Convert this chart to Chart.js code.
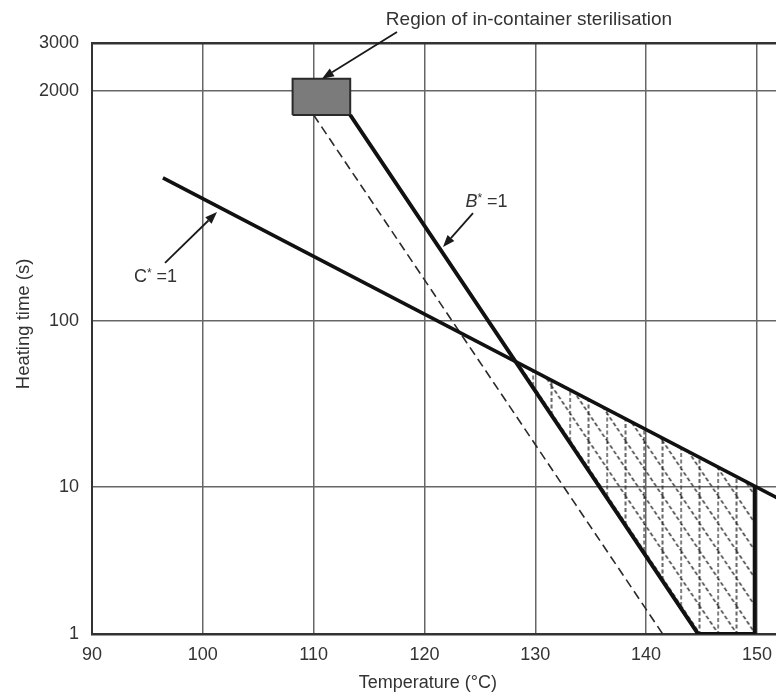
<!DOCTYPE html>
<html>
<head>
<meta charset="utf-8">
<script src="https://cdn.jsdelivr.net/npm/chart.js@4.4.0/dist/chart.umd.min.js"></script>
<style>
  html, body { margin: 0; padding: 0; background: #fff; overflow: hidden; }
</style>
</head>
<body>
<canvas id="sterilChart" width="776" height="695"></canvas>
<script>
// Ticks de los ejes
const temperatureTicks = [90, 100, 110, 120, 130, 140, 150];
const timeTicks = [1, 10, 100, 2000, 3000];

// Línea C* = 1
const cStarTemp = [96.4, 152];
const cStarTime = [645, 8.3];

// Línea B* = 1 y borde derecho de la región
const bStarTemp = [113.3, 144.7, 149.8, 149.8];
const bStarTime = [1463, 1, 1, 10.1];

// Línea discontinua paralela
const dashedTemp = [110.0, 141.5];
const dashedTime = [1463, 1];

// Región sombreada
const regionTemp = [128.2, 144.7, 149.8, 149.8, 128.2];
const regionTime = [57, 1, 1, 10.1, 57];

// Región de esterilización en envase (rectángulo gris)
const boxTemp = [108.1, 113.3, 113.3, 108.1, 108.1];
const boxTime = [1463, 1463, 2220, 2220, 1463];

// Etiquetas y flechas
const labelTexts = ['Region of in-container sterilisation', 'B* =1', 'C* =1'];
const labelTemps = [129.43, 125.6, 95.73];
const labelTimes = [3643, 471, 177];
const arrowTailTemps = [117.52, 124.38, 96.59];
const arrowTailTimes = [3292, 408, 213];
const arrowHeadTemps = [110.75, 121.67, 101.28];
const arrowHeadTimes = [2220, 262, 413];

// Títulos de ejes
const xTitle = 'Temperature (°C)';
const yTitle = 'Heating time (s)';

// El eje original no es logarítmico uniforme: fracción de altura de cada tick
const timeTickFractions = [0, 0.2487, 0.5296, 0.9188, 1];

const FONT = "'Liberation Sans', Arial, sans-serif";
const TEXT = '#333';

function toPoints(xs, ys) {
    return xs.map((x, i) => ({ x: x, y: ys[i] }));
}

// Escala log por tramos
class PiecewiseLogScale extends Chart.LogarithmicScale {
    getPixelForValue(value) {
        if (value === null || value === undefined || isNaN(value) || value <= 0) return NaN;
        const logs = timeTicks.map(Math.log10);
        const lv = Math.log10(value);
        let i = 0;
        while (i < logs.length - 2 && lv > logs[i + 1]) i++;
        const t = (lv - logs[i]) / (logs[i + 1] - logs[i]);
        const f = timeTickFractions[i] + t * (timeTickFractions[i + 1] - timeTickFractions[i]);
        return this.getPixelForDecimal(f);
    }
    getValueForPixel(pixel) {
        const logs = timeTicks.map(Math.log10);
        const f = this.getDecimalForPixel(pixel);
        let i = 0;
        while (i < timeTickFractions.length - 2 && f > timeTickFractions[i + 1]) i++;
        const t = (f - timeTickFractions[i]) / (timeTickFractions[i + 1] - timeTickFractions[i]);
        return Math.pow(10, logs[i] + t * (logs[i + 1] - logs[i]));
    }
}
PiecewiseLogScale.id = 'piecewiseLog';
PiecewiseLogScale.defaults = {};
Chart.register(PiecewiseLogScale);

// Trama de la región (verticales y diagonales discontinuas)
function makeHatch() {
    const c = document.createElement('canvas');
    c.width = 37;
    c.height = 55;
    const g = c.getContext('2d');
    g.strokeStyle = '#2a2a2a';
    g.lineWidth = 1.4;
    g.setLineDash([4, 2.5]);
    [0.5, 19].forEach(x => {
        g.beginPath(); g.moveTo(x, 0); g.lineTo(x, 55); g.stroke();
    });
    [-37, -18.5, 0, 18.5, 37].forEach(dx => {
        g.beginPath(); g.moveTo(dx, 0); g.lineTo(dx + 37, 55); g.stroke();
    });
    const p = g.createPattern(c, 'repeat');
    if (p.setTransform && window.DOMMatrix) p.setTransform(new DOMMatrix([1, 0, 0, 1, 14.5, 0]));
    return p;
}

function drawArrow(ctx, x1, y1, x2, y2) {
    const ang = Math.atan2(y2 - y1, x2 - x1);
    const len = 12, half = 4.5;
    const bx = x2 - len * Math.cos(ang), by = y2 - len * Math.sin(ang);
    ctx.beginPath();
    ctx.moveTo(x1, y1);
    ctx.lineTo(bx, by);
    ctx.stroke();
    ctx.beginPath();
    ctx.moveTo(x2, y2);
    ctx.lineTo(bx - half * Math.sin(ang), by + half * Math.cos(ang));
    ctx.lineTo(bx + half * Math.sin(ang), by - half * Math.cos(ang));
    ctx.closePath();
    ctx.fill();
}

// Texto con asterisco en superíndice
function drawStarLabel(ctx, text, cx, cy, italic) {
    const parts = text.split('*');
    const mainFont = (italic ? 'italic ' : '') + '18px ' + FONT;
    const starFont = '12px ' + FONT;
    const restFont = '18px ' + FONT;
    ctx.font = mainFont; const w1 = ctx.measureText(parts[0]).width;
    ctx.font = starFont; const w2 = ctx.measureText('*').width;
    ctx.font = restFont; const w3 = ctx.measureText(parts[1]).width;
    let x = cx - (w1 + w2 + w3) / 2;
    ctx.textAlign = 'left';
    ctx.font = mainFont; ctx.fillText(parts[0], x, cy); x += w1;
    ctx.font = starFont; ctx.fillText('*', x, cy - 3); x += w2;
    ctx.font = restFont; ctx.fillText(parts[1], x, cy);
}

const notesPlugin = {
    id: 'notes',
    afterDatasetsDraw(chart) {
        const { ctx, scales: { x, y } } = chart;
        ctx.save();
        ctx.strokeStyle = '#1a1a1a';
        ctx.fillStyle = '#1a1a1a';
        ctx.lineWidth = 1.8;
        for (let i = 0; i < arrowTailTemps.length; i++) {
            drawArrow(ctx,
                x.getPixelForValue(arrowTailTemps[i]), y.getPixelForValue(arrowTailTimes[i]),
                x.getPixelForValue(arrowHeadTemps[i]), y.getPixelForValue(arrowHeadTimes[i]));
        }
        ctx.fillStyle = TEXT;
        ctx.textBaseline = 'middle';
        labelTexts.forEach((t, i) => {
            const px = x.getPixelForValue(labelTemps[i]);
            const py = y.getPixelForValue(labelTimes[i]);
            if (t.indexOf('*') >= 0) {
                drawStarLabel(ctx, t, px, py, t[0] === 'B');
            } else {
                ctx.font = '19px ' + FONT;
                ctx.textAlign = 'center';
                ctx.fillText(t, px, py);
            }
        });
        // Títulos de ejes (desplazados como en el original)
        ctx.textAlign = 'center';
        ctx.font = '18px ' + FONT;
        ctx.fillText(xTitle, x.getPixelForValue(120.3), chart.height - 12);
        ctx.save();
        ctx.translate(24, y.getPixelForValue(96));
        ctx.rotate(-Math.PI / 2);
        ctx.font = '18.5px ' + FONT;
        ctx.fillText(yTitle, 0, 0);
        ctx.restore();
        ctx.restore();
    }
};

const blackLine = '#111';

new Chart(document.getElementById('sterilChart'), {
    type: 'line',
    data: {
        datasets: [
            {
                label: 'C* = 1',
                data: toPoints(cStarTemp, cStarTime),
                borderColor: blackLine,
                borderWidth: 3.6,
                pointRadius: 0,
                fill: false,
                order: 0
            },
            {
                label: 'B* = 1',
                data: toPoints(bStarTemp, bStarTime),
                borderColor: blackLine,
                borderWidth: 4,
                pointRadius: 0,
                fill: false,
                order: 0
            },
            {
                label: 'dashed',
                data: toPoints(dashedTemp, dashedTime),
                borderColor: '#2a2a2a',
                borderWidth: 1.6,
                borderDash: [9, 5],
                pointRadius: 0,
                fill: false,
                order: 1
            },
            {
                label: 'region',
                data: toPoints(regionTemp, regionTime),
                borderWidth: 0,
                borderColor: 'rgba(0,0,0,0)',
                backgroundColor: makeHatch(),
                pointRadius: 0,
                fill: 'shape',
                order: 2
            },
            {
                label: 'in-container',
                data: toPoints(boxTemp, boxTime),
                borderColor: '#2a2a2a',
                borderWidth: 2,
                backgroundColor: '#7b7b7b',
                pointRadius: 0,
                fill: 'shape',
                order: 1
            }
        ]
    },
    options: {
        responsive: false,
        animation: false,
        devicePixelRatio: 1,
        layout: { padding: { top: 43, right: 0, left: 0, bottom: 0 } },
        plugins: {
            legend: { display: false },
            tooltip: { enabled: false }
        },
        scales: {
            x: {
                type: 'linear',
                min: 90,
                max: 151.72,
                afterBuildTicks: s => { s.ticks = temperatureTicks.map(v => ({ value: v })); },
                afterFit: s => { s.height = 61; s.paddingLeft = 0; s.paddingRight = 0; },
                grid: { color: '#666', lineWidth: 1.5, drawTicks: false },
                border: { color: '#333', width: 2.5 },
                ticks: {
                    padding: 10, color: TEXT, maxRotation: 0, autoSkip: false,
                    font: { family: FONT, size: 18 },
                    callback: v => String(v)
                },
                title: { display: false }
            },
            y: {
                type: 'piecewiseLog',
                min: 1,
                max: 3000,
                afterBuildTicks: s => { s.ticks = timeTicks.map(v => ({ value: v })); },
                afterFit: s => { s.width = 92; },
                grid: {
                    color: ctx => (ctx.tick && ctx.tick.value === 3000) ? '#333' : '#666',
                    lineWidth: ctx => (ctx.tick && ctx.tick.value === 3000) ? 2.5 : 1.5,
                    drawTicks: false
                },
                border: { color: '#333', width: 2 },
                ticks: {
                    padding: 13, color: TEXT, autoSkip: false,
                    font: { family: FONT, size: 18 },
                    callback: v => String(v)
                },
                title: { display: false }
            }
        }
    },
    plugins: [notesPlugin]
});
</script>
</body>
</html>
